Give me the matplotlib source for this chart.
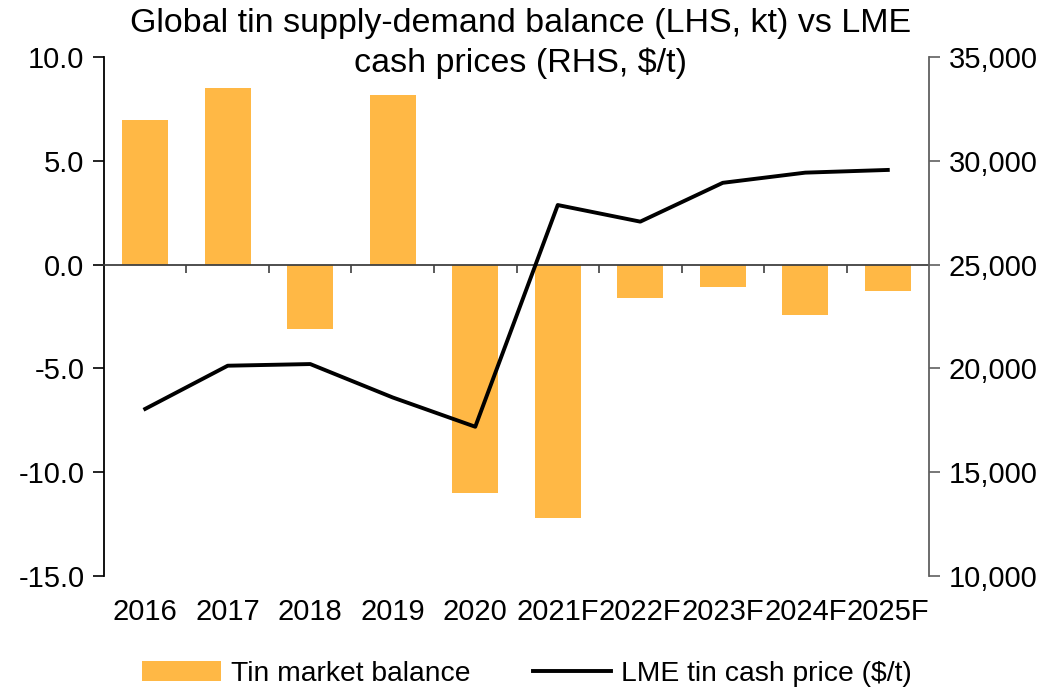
import matplotlib.pyplot as plt
import numpy as np

plt.rcParams['font.family'] = ['Liberation Sans', 'DejaVu Sans']

years = ['2016', '2017', '2018', '2019', '2020', '2021F', '2022F', '2023F', '2024F', '2025F']
balance = [6.95, 8.52, -3.1, 8.18, -10.98, -12.2, -1.6, -1.06, -2.44, -1.26]   # kt, LHS
price = [18050, 20130, 20210, 18600, 17190, 27870, 27070, 28940, 29430, 29560]  # $/t, RHS

bar_color = '#FFB845'

fig = plt.figure(figsize=(10.48, 6.91), dpi=100)
ax = fig.add_axes([0.0992, 0.1664, 0.7873, 0.7511])
x = np.arange(len(years))

ax.bar(x, balance, width=0.56, color=bar_color, label='Tin market balance', zorder=2)
ax.set_xlim(-0.5, len(years) - 0.5)
ax.set_ylim(-15, 10)
ax.set_yticks(np.arange(-15, 10.1, 5))
ax.set_yticklabels([f'{v:.1f}' for v in np.arange(-15, 10.1, 5)])
ax.tick_params(axis='y', direction='out', length=8, width=1.2, labelsize=21, pad=6)

# zero line acting as the category axis, ticks between categories
ax.spines['bottom'].set_position(('data', 0))
ax.spines['bottom'].set_color('#404040')
ax.spines['bottom'].set_linewidth(1.3)
ax.spines['top'].set_visible(False)
ax.spines['right'].set_visible(False)
ax.spines['left'].set_linewidth(1.3)
ax.set_xticks(x[:-1] + 0.5)
ax.tick_params(axis='x', direction='out', length=6, width=1.2, labelbottom=False, color='#404040')

# category labels at the bottom
sec = ax.secondary_xaxis('bottom')
sec.spines['bottom'].set_visible(False)
sec.set_xticks(x)
sec.set_xticklabels(years)
sec.tick_params(axis='x', length=0, labelsize=21, pad=16)

ax2 = ax.twinx()
ax2.plot(x, price, color='black', lw=2.8, label='LME tin cash price ($/t)', zorder=3)
ax2.set_ylim(10000, 35000)
ax2.set_yticks(np.arange(10000, 35001, 5000))
ax2.set_yticklabels([f'{v:,}' for v in range(10000, 35001, 5000)])
ax2.tick_params(axis='y', direction='out', length=8, width=1.2, labelsize=21, pad=6, color='#606060')
for s in ['top', 'left', 'bottom']:
    ax2.spines[s].set_visible(False)
ax2.spines['right'].set_color('#606060')
ax2.spines['right'].set_linewidth(1.3)

fig.text(0.497, 0.988, 'Global tin supply-demand balance (LHS, kt) vs LME\ncash prices (RHS, $/t)',
         ha='center', va='top', fontsize=24.5, linespacing=1.32)

h1, l1 = ax.get_legend_handles_labels()
h2, l2 = ax2.get_legend_handles_labels()
fig.legend(h1 + h2, l1 + l2, loc='center', bbox_to_anchor=(0.503, 0.025), ncol=2,
           frameon=False, fontsize=20.3, handlelength=2.8, columnspacing=2.2, handletextpad=0.35)

fig.savefig('out.png', dpi=100)
